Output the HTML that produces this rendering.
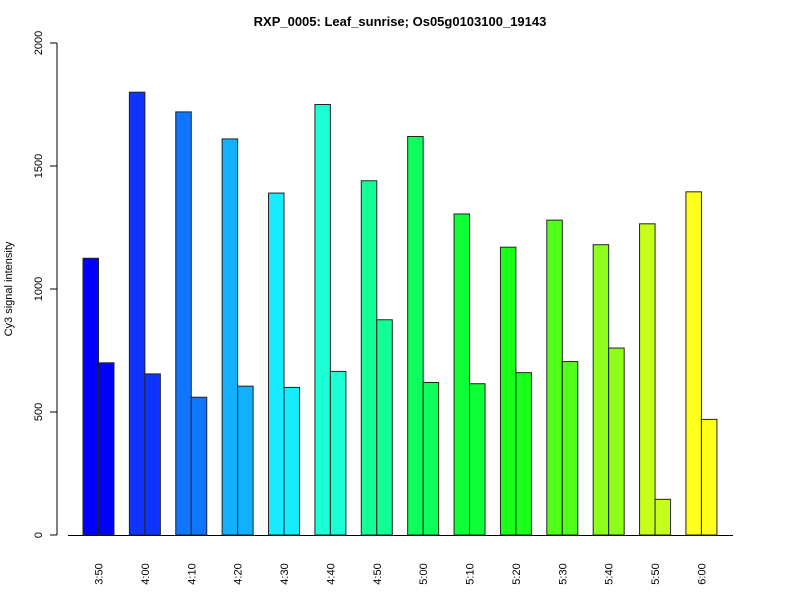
<!DOCTYPE html>
<html><head><meta charset="utf-8"><style>
body{margin:0;background:#fff;}
svg{font-family:"Liberation Sans",Arial,sans-serif;}
</style></head><body>
<svg id="chart" width="800" height="600" xmlns="http://www.w3.org/2000/svg">
<text x="400" y="26" text-anchor="middle" font-size="13" font-weight="bold">RXP_0005: Leaf_sunrise; Os05g0103100_19143</text>
<text transform="translate(12,289) rotate(-90)" text-anchor="middle" font-size="11">Cy3 signal intensity</text>
<g id="axes"></g>
<g id="bars"></g>
</svg>
<script>
const categories=["3:50","4:00","4:10","4:20","4:30","4:40","4:50","5:00","5:10","5:20","5:30","5:40","5:50","6:00"];
const series1=[1125,1800,1720,1610,1390,1750,1440,1620,1305,1170,1280,1180,1265,1395];
const series2=[700,655,560,605,600,665,875,620,615,660,705,760,145,470];
const colors=["#0000FF","#1034FF","#1075FF","#12B0FF","#17EBFF","#1AFFD4","#12FF98","#0DFF5C","#0DFF38","#1AFF1A","#52FF1A","#8CFF1A","#C6FF1A","#FFFF1A"];
const yTicks=[0,500,1000,1500,2000];
const ns="http://www.w3.org/2000/svg";
const y0=535,yTop=43,yMax=2000;
const y=v=>y0-(v/yMax)*(y0-yTop);
const gx=i=>83+i*46.38;
const bw=15.5;
const axes=document.getElementById('axes'),bars=document.getElementById('bars');
function mk(tag,attrs,parent){const e=document.createElementNS(ns,tag);for(const k in attrs)e.setAttribute(k,attrs[k]);parent.appendChild(e);return e;}
let yl=mk('line',{x1:57,x2:57,y1:y(0),y2:y(2000),stroke:'#000'},axes);


yTicks.forEach(t=>{
  mk('line',{x1:50,x2:57,y1:y(t),y2:y(t),stroke:'#000'},axes);
  const tx=mk('text',{transform:`translate(42,${y(t)}) rotate(-90)`,'text-anchor':'middle','font-size':11},axes);
  
  
  tx.textContent=t;
});
let xl=mk('line',{x1:68,x2:733,y1:y0+0.5,y2:y0+0.5,stroke:'#000'},axes);


categories.forEach((c,i)=>{
  const x=gx(i);
  [series1[i],series2[i]].forEach((v,j)=>{
    const r=mk('rect',{x:x+j*bw,y:y(v),width:bw,height:y0-y(v),fill:colors[i],stroke:'#222','stroke-width':1},bars);
    
    
  });
  const tx=mk('text',{transform:`translate(${x+bw+4},574) rotate(-90)`,'text-anchor':'middle','font-size':11},axes);
  
  
  tx.textContent=c;
});
</script>
</body></html>
